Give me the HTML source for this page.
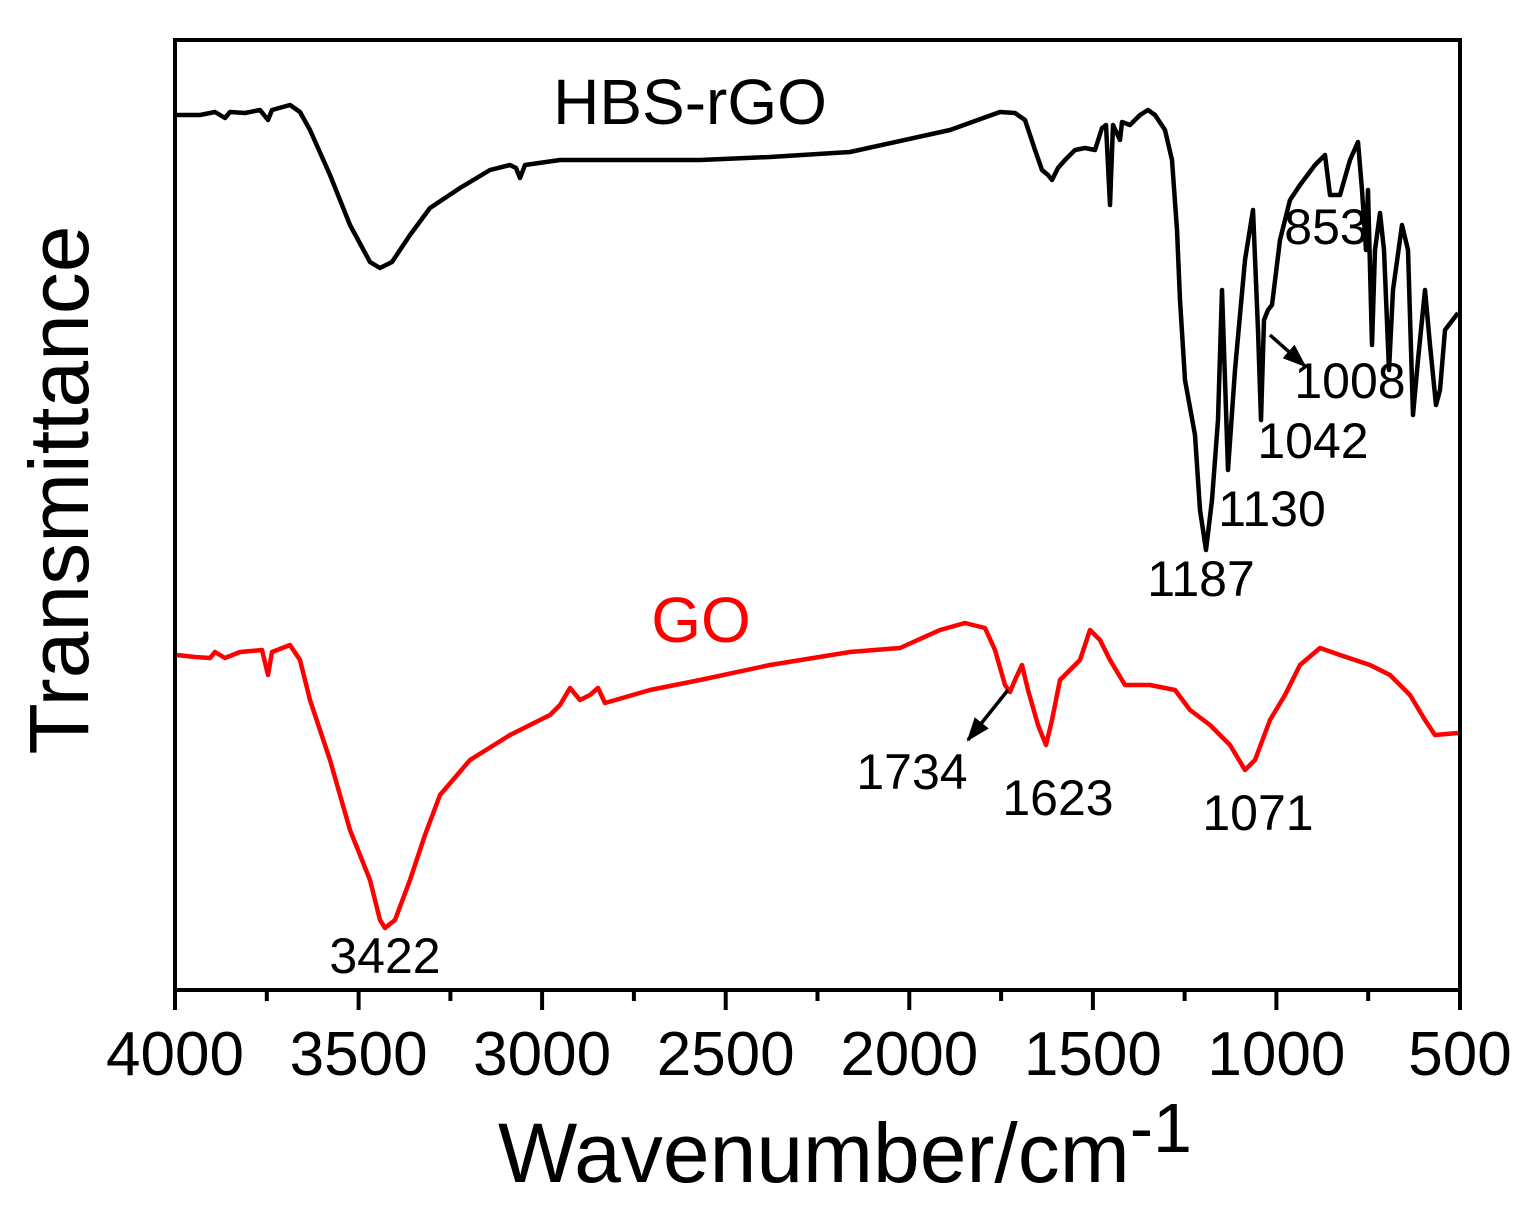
<!DOCTYPE html>
<html><head><style>body{margin:0;background:#fff}svg{display:block}</style></head><body>
<svg width="1531" height="1211" viewBox="0 0 1531 1211" xmlns="http://www.w3.org/2000/svg" font-family="Liberation Sans, Arial, sans-serif">
<defs><marker id="a2" markerWidth="24" markerHeight="18" refX="22" refY="9" orient="auto" markerUnits="userSpaceOnUse"><path d="M0,0 L24,9 L0,18 z" fill="#000"/></marker></defs>
<rect x="175" y="40" width="1285" height="950" fill="none" stroke="#000" stroke-width="4"/>
<g stroke="#000" stroke-width="4">
<line x1="175" y1="990" x2="175" y2="1010"/><line x1="358.6" y1="990" x2="358.6" y2="1010"/><line x1="542.1" y1="990" x2="542.1" y2="1010"/><line x1="725.7" y1="990" x2="725.7" y2="1010"/><line x1="909.3" y1="990" x2="909.3" y2="1010"/><line x1="1092.9" y1="990" x2="1092.9" y2="1010"/><line x1="1276.4" y1="990" x2="1276.4" y2="1010"/><line x1="1460" y1="990" x2="1460" y2="1010"/>
<line x1="266.8" y1="990" x2="266.8" y2="1001"/><line x1="450.4" y1="990" x2="450.4" y2="1001"/><line x1="633.9" y1="990" x2="633.9" y2="1001"/><line x1="817.5" y1="990" x2="817.5" y2="1001"/><line x1="1001.1" y1="990" x2="1001.1" y2="1001"/><line x1="1184.6" y1="990" x2="1184.6" y2="1001"/><line x1="1368.2" y1="990" x2="1368.2" y2="1001"/>
</g>
<g font-size="62" text-anchor="middle" fill="#000">
<text x="175" y="1075">4000</text><text x="358.6" y="1075">3500</text><text x="542.1" y="1075">3000</text><text x="725.7" y="1075">2500</text><text x="909.3" y="1075">2000</text><text x="1092.9" y="1075">1500</text><text x="1276.4" y="1075">1000</text><text x="1460" y="1075">500</text>
</g>
<text x="845" y="1182" font-size="84" text-anchor="middle">Wavenumber/cm<tspan font-size="70" dy="-30">-1</tspan></text>
<text transform="translate(88,490) rotate(-90)" font-size="84" text-anchor="middle">Transmittance</text>
<polyline fill="none" stroke="#000" stroke-width="4.5" stroke-linejoin="round" points="177,115 200,115 215,112 225,118 230,112 245,113 260,110 268,120 272,110 290,105 300,112 310,130 330,175 350,225 370,262 380,268 392,262 410,235 430,208 460,188 490,170 510,165 516,168 520,178 525,165 560,160 700,160 770,157 850,152 950,130 1000,112 1015,113 1025,120 1035,150 1042,170 1048,175 1052,180 1058,168 1065,160 1075,150 1085,148 1095,150 1102,128 1106,125 1110,205 1113,125 1120,140 1122,122 1130,125 1140,115 1148,110 1155,115 1165,130 1172,160 1177,230 1180,300 1185,380 1195,435 1200,510 1206,550 1212,500 1218,420 1222,290 1228,470 1235,370 1245,260 1253,210 1258,330 1261,420 1264,320 1268,310 1272,305 1280,240 1290,200 1300,185 1315,165 1325,155 1330,195 1340,195 1350,160 1358,142 1362,190 1366,250 1368,190 1372,345 1375,250 1380,213 1384,250 1389,370 1393,290 1402,225 1408,250 1413,415 1418,360 1425,290 1430,345 1436,405 1440,390 1445,330 1458,313"/>
<polyline fill="none" stroke="#f00" stroke-width="4.5" stroke-linejoin="round" points="177,655 195,657 210,658 215,652 225,658 240,652 262,650 268,675 272,652 290,645 300,660 310,700 330,760 350,830 370,880 380,920 385,928 395,920 410,880 425,835 440,795 470,760 510,735 550,715 560,705 570,688 580,700 590,695 598,688 605,703 650,690 700,680 770,665 850,652 900,648 940,630 965,623 985,628 995,650 1005,685 1010,692 1015,680 1022,665 1028,690 1038,725 1046,745 1052,720 1060,680 1070,670 1080,660 1090,630 1100,640 1110,660 1125,685 1150,685 1175,690 1190,710 1210,725 1230,745 1245,770 1255,760 1270,720 1285,695 1300,665 1320,648 1340,655 1370,665 1390,675 1410,695 1425,720 1435,735 1458,733"/>
<text x="690" y="124" font-size="64" text-anchor="middle">HBS-rGO</text>
<text x="701" y="642" font-size="64" text-anchor="middle" fill="#f00">GO</text>
<g font-size="50" text-anchor="middle">
<text x="1326" y="244">853</text><text x="1350" y="398">1008</text><text x="1313" y="458">1042</text><text x="1272" y="526">1130</text><text x="1201" y="596">1187</text>
<text x="385" y="973">3422</text><text x="912" y="789">1734</text><text x="1058" y="815">1623</text><text x="1258" y="830">1071</text>
</g>
<line x1="1270" y1="335" x2="1305" y2="366" stroke="#000" stroke-width="3.5" marker-end="url(#a2)"/>
<line x1="1008" y1="690" x2="968" y2="740" stroke="#000" stroke-width="3.5" marker-end="url(#a2)"/>
</svg>
</body></html>
